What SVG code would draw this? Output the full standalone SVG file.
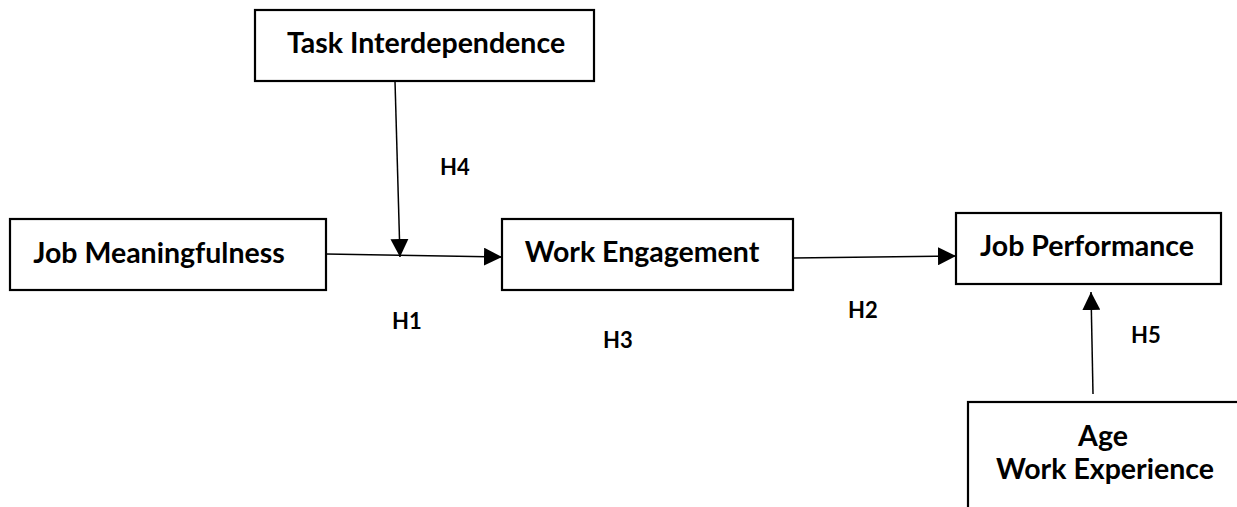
<svg xmlns="http://www.w3.org/2000/svg" width="1237" height="507" viewBox="0 0 1237 507">
<style>
.box{fill:#fff;stroke:#000;stroke-width:2.2}
.t{font-family:Lato,"Open Sans",sans-serif;font-weight:bold;font-size:28.5px;fill:#000}
.h{font-family:Lato,"Open Sans",sans-serif;font-weight:bold;font-size:22px;fill:#000}
.c{stroke:#000;stroke-width:1.5;fill:none}
</style>
<defs>
<marker id="ah" viewBox="0 0 18 18" refX="18" refY="9" markerWidth="18" markerHeight="18" markerUnits="userSpaceOnUse" orient="auto">
<path d="M0,0 L18,9 L0,18 Z" fill="#000"/>
</marker>
</defs>
<rect width="1237" height="507" fill="#fff"/>
<g id="connectors">
<line class="c" x1="326" y1="254" x2="502" y2="257" marker-end="url(#ah)"/>
<line class="c" x1="395" y1="81" x2="400" y2="257" marker-end="url(#ah)"/>
<line class="c" x1="793" y1="258" x2="956" y2="256" marker-end="url(#ah)"/>
<line class="c" x1="1093" y1="394" x2="1091" y2="292" marker-end="url(#ah)"/>
</g>
<g id="task-interdependence">
<rect class="box" x="255" y="10" width="339" height="71"/>
<text class="t" x="426" y="53" text-anchor="middle">Task Interdependence</text>
</g>
<g id="job-meaningfulness">
<rect class="box" x="10" y="219" width="316" height="71"/>
<text class="t" x="159" y="263" text-anchor="middle">Job Meaningfulness</text>
</g>
<g id="work-engagement">
<rect class="box" x="502" y="219" width="291" height="71"/>
<text class="t" x="642" y="262" text-anchor="middle">Work Engagement</text>
</g>
<g id="job-performance">
<rect class="box" x="956" y="213" width="265" height="71"/>
<text class="t" x="1087" y="256" text-anchor="middle">Job Performance</text>
</g>
<g id="age-work-experience">
<rect class="box" x="968" y="402" width="290" height="120"/>
<text class="t" x="1103" y="446" text-anchor="middle">Age</text>
<text class="t" x="1105" y="479" text-anchor="middle">Work Experience</text>
</g>
<g id="labels">
<text class="h" x="440" y="175">H4</text>
<text class="h" x="392" y="329">H1</text>
<text class="h" x="603" y="348">H3</text>
<text class="h" x="848" y="318">H2</text>
<text class="h" x="1131" y="343">H5</text>
</g>
</svg>
